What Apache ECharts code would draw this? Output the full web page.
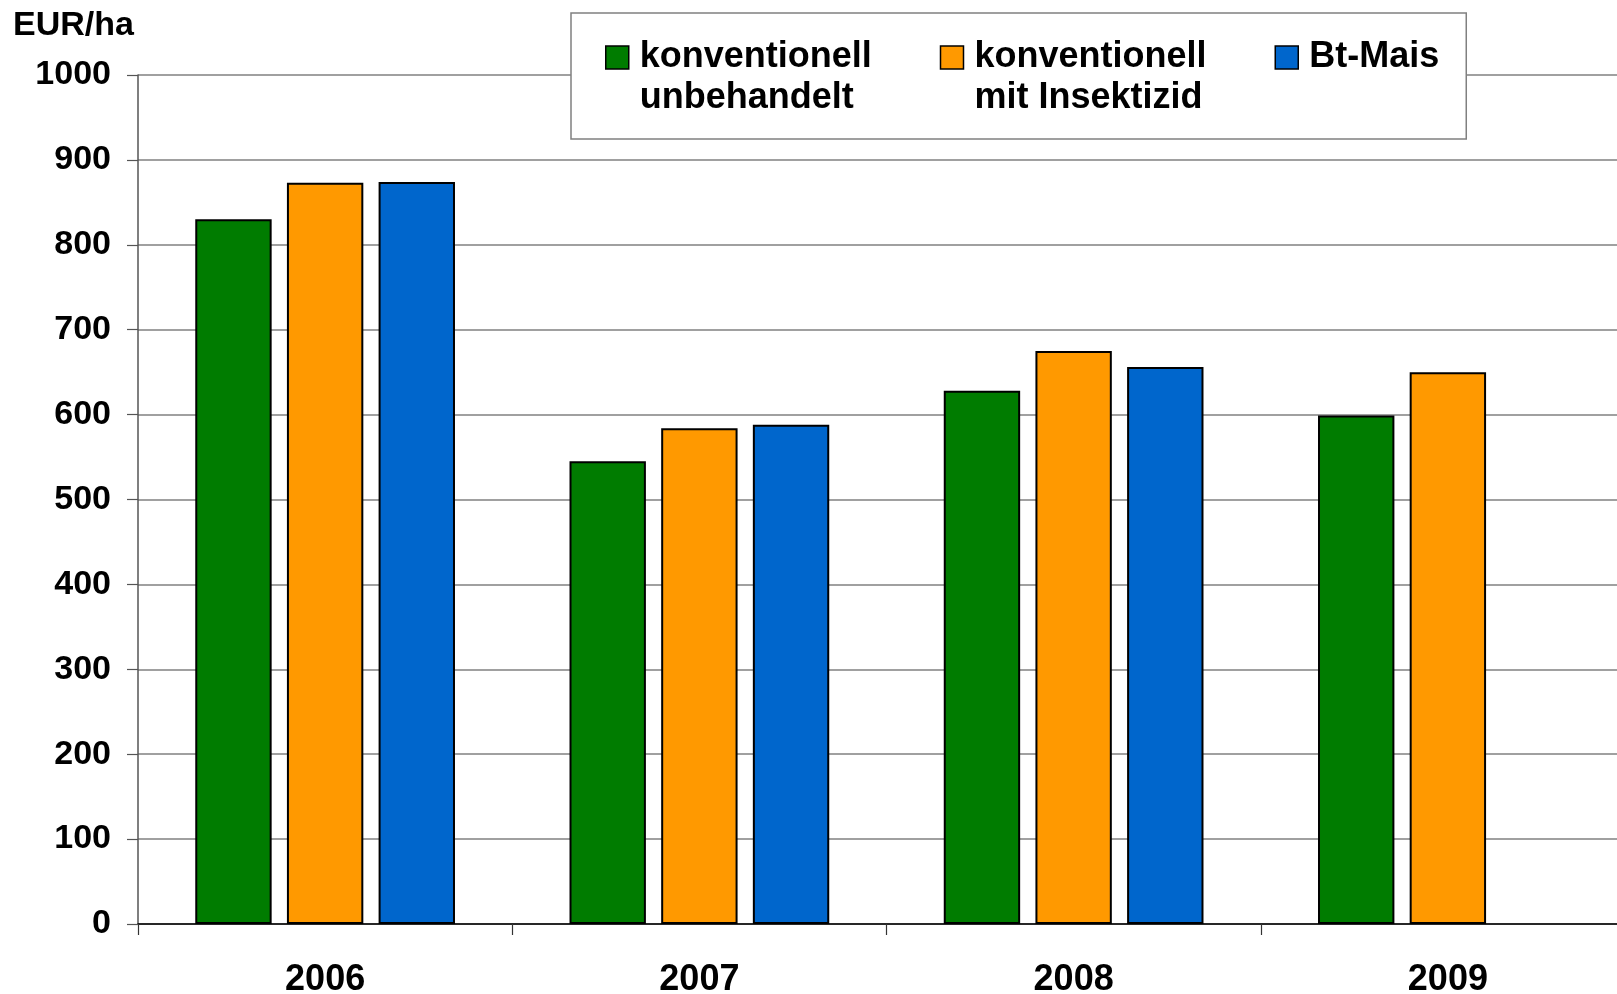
<!DOCTYPE html>
<html>
<head>
<meta charset="utf-8">
<style>
    html, body { margin: 0; padding: 0; background: #fff; }
    #chart { width: 1617px; height: 994px; }
</style>
<script src="https://cdn.jsdelivr.net/npm/echarts@6/dist/echarts.min.js"></script>
</head>
<body>
<div id="chart"></div>
<script>
    var years = ['2006', '2007', '2008', '2009'];
    var seriesNames = ['konventionell unbehandelt', 'konventionell mit Insektizid', 'Bt-Mais'];
    var legendLabels = ['konventionell\nunbehandelt', 'konventionell\nmit Insektizid', 'Bt-Mais\n '];
    var unbehandelt = [830, 545, 628, 599];
    var mitInsektizid = [873, 584, 675, 650];
    var btMais = [874, 588, 656, null];
    var colors = ['#007C00', '#FF9900', '#0066CC'];

    var font = '"Liberation Sans", Arial, sans-serif';
    var chart = echarts.init(document.getElementById('chart'));

    function bar(name, data, color) {
        return {
            name: name,
            type: 'bar',
            data: data,
            barGap: '20%',
            barCategoryGap: '30.6%',
            itemStyle: { color: color, borderColor: '#000', borderWidth: 2 }
        };
    }

    var option = {
        animation: false,
        title: {
            text: 'EUR/ha',
            left: 8,
            top: 4,
            textStyle: { fontFamily: font, fontWeight: 'bold', fontSize: 34, color: '#000' }
        },
        legend: {
            left: 571,
            top: 13,
            orient: 'horizontal',
            itemGap: 0,
            itemWidth: 23,
            itemHeight: 64,
            // square sits at the top of a tall item, next to the first text line
            icon: 'path://M0,0H23V23H0ZM23,64Z',
            padding: [24, 27, 20, 34],
            borderColor: '#808080',
            borderWidth: 1.5,
            backgroundColor: '#fff',
            z: 10,
            itemStyle: { borderColor: '#000', borderWidth: 1.5 },
            formatter: function (name) {
                return legendLabels[seriesNames.indexOf(name)];
            },
            textStyle: {
                fontFamily: font, fontWeight: 'bold', fontSize: 36, color: '#000',
                lineHeight: 41, padding: [0, 0, 0, 6], width: 300
            },
            data: [
                { name: seriesNames[0] },
                { name: seriesNames[1] },
                { name: seriesNames[2], textStyle: { width: 126 } }
            ]
        },
        grid: { left: 138, top: 75, bottom: 70, width: 1497, outerBoundsMode: 'none' },
        xAxis: {
            type: 'category',
            data: years,
            axisLine: { lineStyle: { color: '#000', width: 1.5 } },
            axisTick: { show: true, length: 11, lineStyle: { color: '#333', width: 1.2 } },
            axisLabel: { fontFamily: font, fontWeight: 'bold', fontSize: 36, color: '#000', margin: 38 }
        },
        yAxis: {
            type: 'value',
            min: 0,
            max: 1000,
            interval: 100,
            axisLine: { show: true, lineStyle: { color: '#555', width: 1.5 } },
            axisTick: { show: true, length: 11, lineStyle: { color: '#555', width: 1.2 } },
            axisLabel: {
                fontFamily: font, fontWeight: 'bold', fontSize: 34, color: '#000', margin: 27,
                formatter: function (v) { return String(v); }
            },
            splitLine: { lineStyle: { color: '#808080', width: 1.5 } }
        },
        series: [
            bar(seriesNames[0], unbehandelt, colors[0]),
            bar(seriesNames[1], mitInsektizid, colors[1]),
            bar(seriesNames[2], btMais, colors[2])
        ]
    };
    chart.setOption(option);
</script>
</body>
</html>
